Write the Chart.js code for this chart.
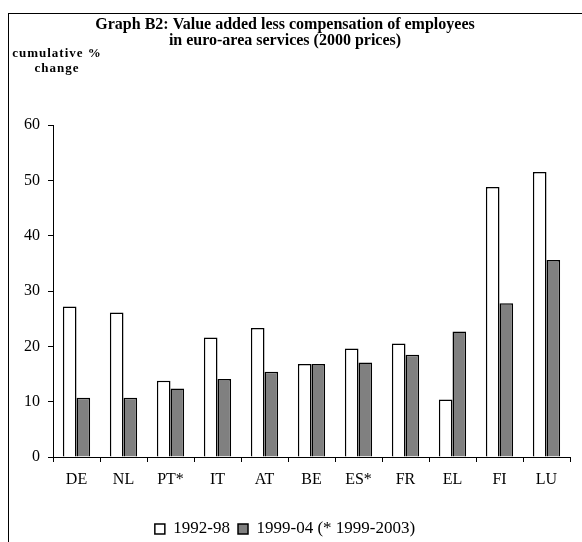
<!DOCTYPE html>
<html>
<head>
<meta charset="utf-8">
<script src="https://cdn.jsdelivr.net/npm/chart.js@4/dist/chart.umd.min.js"></script>
<style>
  html, body { margin: 0; padding: 0; background: #fff; }
  #wrap { position: relative; width: 582px; height: 542px; overflow: hidden; }
  #frame {
    position: absolute; left: 8px; top: 13px; width: 700px; height: 700px;
    border: 1.5px solid #000; box-sizing: border-box;
  }
  #ylabel {
    position: absolute; left: 8px; top: 45px; width: 98px;
    text-align: center; font: bold 13px "Liberation Serif", serif;
    letter-spacing: 1px; line-height: 15px; color: #000;
  }
  canvas { position: absolute; left: 0; top: 0; }
</style>
</head>
<body>
<div id="wrap">
  <div id="frame"></div>
  <canvas id="chart" width="582" height="542"></canvas>
  <div id="ylabel">cumulative %<br>change</div>
</div>
<script>
const categories = ["DE", "NL", "PT*", "IT", "AT", "BE", "ES*", "FR", "EL", "FI", "LU"];
const period1 = [27.2, 26.1, 13.8, 21.6, 23.3, 16.8, 19.6, 20.5, 10.4, 48.8, 51.5];
const period2 = [10.7, 10.7, 12.4, 14.1, 15.4, 16.8, 17.1, 18.5, 22.7, 27.8, 35.6];
const seriesNames = ["1992-98", "1999-04 (* 1999-2003)"];
const yTicks = [0, 10, 20, 30, 40, 50, 60];

const serif = "'Liberation Serif', 'Times New Roman', serif";

const ctx = document.getElementById("chart").getContext("2d");

new Chart(ctx, {
  type: "bar",
  data: {
    labels: categories,
    datasets: [
      {
        label: seriesNames[0],
        data: period1,
        backgroundColor: "#ffffff",
        borderColor: "#000000",
        borderWidth: 1.5,
      },
      {
        label: seriesNames[1],
        data: period2,
        backgroundColor: "#808080",
        borderColor: "#000000",
        borderWidth: 1.5,
      },
    ],
  },
  options: {
    responsive: false,
    animation: false,
    // legend sits low in the frame, so bottom padding goes negative
    layout: { padding: { left: 0, right: 12, top: 0, bottom: -5.5 } },
    datasets: {
      bar: { categoryPercentage: 0.58, barPercentage: 1.0 },
    },
    plugins: {
      title: {
        display: true,
        text: [
          "Graph B2: Value added less compensation of employees",
          "in euro-area services (2000 prices)",
        ],
        color: "#000",
        font: { family: serif, size: 16, weight: "bold", lineHeight: 1.05 },
        padding: { top: 16, bottom: 75.5 },
      },
      legend: {
        position: "bottom",
        labels: {
          color: "#000",
          font: { family: serif, size: 17 },
          boxWidth: 10,
          boxHeight: 10,
          padding: 8,
        },
      },
      tooltip: { enabled: false },
    },
    scales: {
      x: {
        grid: {
          drawOnChartArea: false,
          color: "#000",
          tickLength: 5,
          offset: true,
        },
        border: { color: "#000", width: 1 },
        ticks: {
          color: "#000",
          font: { family: serif, size: 16 },
          padding: 8,
          maxRotation: 0,
        },
        afterFit: (scale) => {
          scale.height = 55.5;
        },
      },
      y: {
        min: 0,
        max: 60,
        afterBuildTicks: (scale) => {
          scale.ticks = yTicks.map((v) => ({ value: v }));
        },
        grid: {
          drawOnChartArea: false,
          color: "#000",
          tickLength: 5,
        },
        border: { color: "#000", width: 1 },
        ticks: {
          color: "#000",
          font: { family: serif, size: 16 },
          padding: 8,
        },
        afterFit: (scale) => {
          scale.width = 53;
        },
      },
    },
  },
});
</script>
</body>
</html>
